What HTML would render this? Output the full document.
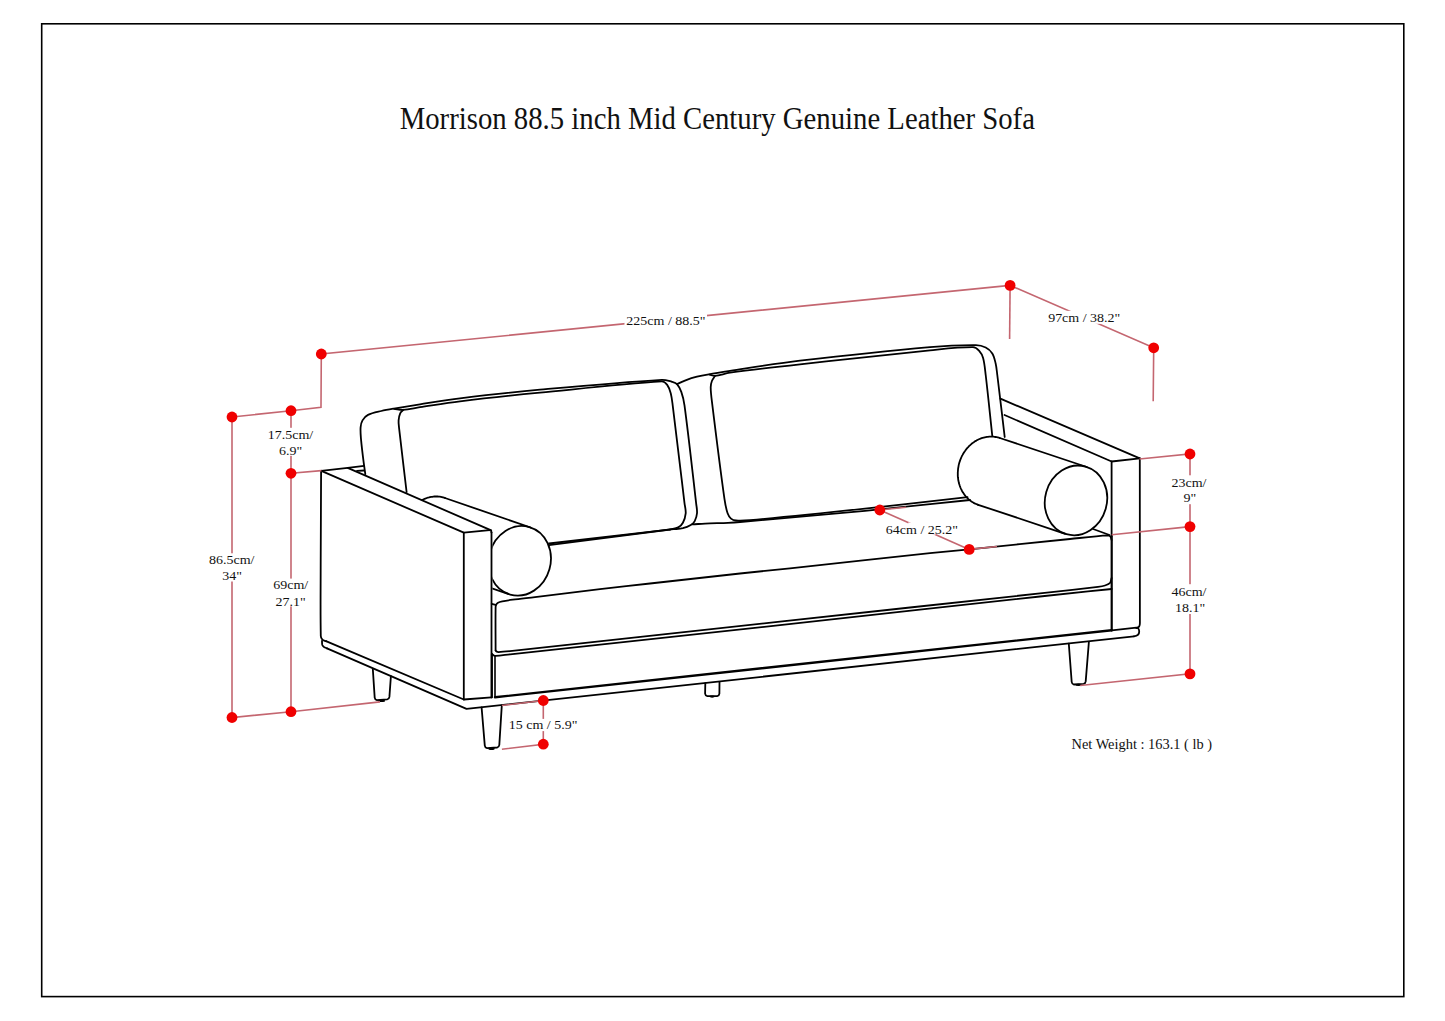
<!DOCTYPE html>
<html><head><meta charset="utf-8">
<style>
html,body{margin:0;padding:0;background:#fff;width:1445px;height:1021px;overflow:hidden}
svg{display:block}
text{font-family:"Liberation Serif",serif;fill:#111}
.s{fill:none;stroke:#000;stroke-width:1.8;stroke-linecap:round;stroke-linejoin:round}
.r{fill:none;stroke:#c46670;stroke-width:1.6}
.d{fill:#f00000}
.lbl{font-size:14px;text-anchor:middle}
.nw{font-size:14.4px}
</style></head>
<body>
<svg width="1445" height="1021" viewBox="0 0 1445 1021">
<rect x="0" y="0" width="1445" height="1021" fill="#fff"/>
<rect x="41.7" y="23.8" width="1362.1" height="972.8" fill="none" stroke="#000" stroke-width="1.6"/>
<text transform="translate(399.7,128.7) scale(1,1.08)" font-size="28.75">Morrison 88.5 inch Mid Century Genuine Leather Sofa</text>
<defs><clipPath id="armclip"><polygon points="300,0 1445,0 1445,1021 492.4,1021 492.4,531 348,468.6 300,447"/></clipPath></defs>
<g class="s">
<path d="M321.3,470.8 L347.7,467.9 L364.1,465.8"/>
<path d="M357,470.9 L364.1,470.5"/>
<path d="M321.1,470.8 C321,500.5 320.8,530.3 320.7,560 C320.7,585.3 320.3,610.8 320.8,636 C320.8,637.3 321.5,638.7 322.4,639.6 C323.3,640.5 324.8,640.7 326,641.2"/>
<path d="M326,641.2 L463.8,699.5 L491.4,697.4"/>
<path d="M321.3,470.8 L463.8,532.7 L489.6,530.2"/>
<path d="M489.6,530.2 C490.1,530.4 490.7,530.4 491,530.7 C491.4,531.1 491.3,531.9 491.5,532.5"/>
<path d="M491.5,532.5 L491.5,697.4"/>
<path d="M463.8,532.7 L463.8,699.5"/>
<path d="M347.7,467.9 L491.2,530.4"/>
<path d="M322,641 C322.1,642.3 321.9,643.8 322.3,645 C322.6,645.8 323.3,646.5 324,647 C324.9,647.6 326,647.9 327,648.3"/>
<path d="M327,648.3 L466.5,708.9 L1134,636.3"/>
<path d="M1134,636.3 Q1139.2,635.6 1139.2,631.8 Q1139.2,627.9 1136.3,627.7 L1111.8,630.3"/>
<path d="M372.8,668.8 L374.7,697.6 Q375,699.8 376.9,700.1 L387.2,699.4 Q389.1,699.1 389.4,696.9 L390.9,676.2"/>
<ellipse cx="381.6" cy="700.9" rx="3.5" ry="1.1" style="fill:#000;stroke:none"/>
<path d="M481.6,707.5 L484.8,745.6 Q485.1,747.8 487,748.1 L497.1,747.5 Q499,747.2 499.3,745 L501.8,705.4"/>
<ellipse cx="491.5" cy="748.7" rx="3.25" ry="1.3" style="fill:#000;stroke:none"/>
<path d="M705.3,683.2 L705.1,693.6 Q705.4,695.8 707.3,696.1 L717.2,696.1 Q719.1,695.8 719.4,693.6 L719.5,681.8"/>
<ellipse cx="712.1" cy="696.6" rx="2.75" ry="1.1" style="fill:#000;stroke:none"/>
<path d="M1068.8,643.7 L1071.7,682 Q1072,684.2 1073.9,684.5 L1083.5,683.9 Q1085.4,683.6 1085.7,681.4 L1088.9,641.8"/>
<ellipse cx="1078.4" cy="684.9" rx="3.0" ry="1.1" style="fill:#000;stroke:none"/>
<path d="M491.9,654 L491.9,697.2" style="stroke-width:2.0"/>
<path d="M495,655.8 L495,697.2" style="stroke-width:1.6"/>
<path d="M495,697.3 L1111.7,630.2" style="stroke-width:2.4"/>
<path d="M491.9,654 C492.9,654.6 493.8,655.8 495,655.8 C499.9,655.9 505,654.8 510,654.3 C600,644.6 690,634.9 780,625.1 C866.7,615.6 953.3,605.9 1040,596.5 C1063.9,593.9 1087.8,591.5 1111.7,589"/>
<path d="M1111.7,536 L1111.7,630.5" style="stroke-width:2.2"/>
<path d="M495.7,650.5 C496,650.9 496.2,651.4 496.6,651.6 C497.1,651.9 497.8,652.1 498.5,652.1 C502.3,652 506.2,651.6 510,651.2 C600,641.4 690,631.4 780,621.6 C866.7,612.1 953.3,602.9 1040,593.4 C1059.3,591.3 1078.7,589.1 1098,586.8 C1100.4,586.5 1102.7,586.2 1105,585.5 C1106.7,585 1108.7,584.4 1109.8,583.2 C1110.9,581.9 1111,579.7 1111.6,578"/>
<path d="M495.6,650.5 C495.6,636.2 495.4,621.8 495.6,607.5 C495.6,606.5 495.8,605.4 496.2,604.6 C496.6,603.8 497.3,603.1 498,602.7 C499.3,602 500.8,601.7 502.3,601.4 C505.7,600.7 509.2,600.2 512.7,599.7 C520.1,598.7 527.6,598 535,597.1 C556.7,594.5 578.3,591.8 600,589.2 C616.7,587.2 633.3,585.4 650,583.5 C680,580.1 710,576.8 740,573.5 C756.7,571.7 773.3,570.1 790,568.3 C836.7,563.3 883.3,558.1 930,553.2 C943.1,551.8 956.2,550.6 969.3,549.3 C1002.9,545.9 1036.4,542.4 1070,539 C1082.7,537.7 1095.5,536.1 1108.1,535.4 C1109,535.4 1110,536.1 1110.5,536.8 C1111.1,537.6 1111.2,538.9 1111.6,540"/>
<path d="M491.7,603.8 L495.6,604.9"/>
<path d="M1000.4,398.6 L1139.8,458.4"/>
<path d="M1139.8,458.4 C1139.8,513.3 1140.1,568.2 1139.9,623 C1139.9,624.2 1139.8,625.5 1139.2,626.4 C1138.7,627.2 1137.4,627.5 1136.5,628"/>
<path d="M1004.5,415 L1111.6,461.5 L1139.8,458.4"/>
<path d="M1111.6,461.5 L1111.6,536"/>
<path d="M1093.1,529 L1109.5,535"/>
<path d="M365.3,474.1 C364.8,470.3 364.2,466.5 363.7,462.7 C362.7,454.9 361.7,447 361,439.2 C360.7,435.3 360.3,431.3 360.6,427.4 C360.8,425 361.3,422.4 362.5,420.4 C363.8,418.2 365.7,416 368,414.9 C372,412.9 376.8,412.1 381.3,411 C385.4,410 389.7,409.3 393.9,408.6 C402.6,407.1 411.3,405.7 420,404.3 C433.3,402.2 446.6,399.9 460,398.3 C486.6,395.1 513.3,392.1 540,389.7 C580.6,386 621.2,382.2 661.8,379.8 C665.2,379.6 668.6,380.9 671.9,381.8 C673.7,382.3 675.8,382.8 677,384.1 C678.9,386.2 680.3,389.1 681.3,391.9 C682.8,396.2 683.9,400.8 684.5,405.3 C688.9,438.1 692.4,471 696.2,503.9 C696.6,507 697.3,510.2 697,513.3 C696.8,516 695.9,518.8 694.7,521.1 C693.9,522.7 692.3,524.1 690.8,525 C688.4,526.4 685.6,527.5 682.9,528.2 C679.9,528.9 676.6,528.9 673.5,529.2"/>
<path d="M673.5,529.2 L549,543.5"/>
<path d="M393.9,408.8 C397,409.1 400.2,410 403.3,409.8 C408.9,409.5 414.4,408 420,407.2 C433.3,405.2 446.6,402.9 460,401.3 C486.6,398.1 513.3,395.3 540,392.7 C580.6,388.7 621.5,383.9 661.8,381.4 C663.9,381.3 666,383.3 667.2,384.9 C669,387.3 670,390.5 670.8,393.5 C671.8,397.3 672.2,401.3 672.7,405.3 C676.8,437.9 680.6,470.5 684.5,503.1 C684.9,506.5 686,510 685.7,513.3 C685.4,516.5 684.4,519.9 682.9,522.7 C681.9,524.6 680.1,526.4 678.2,527.4 C675.8,528.7 672.7,528.8 670,529.5"/>
<path d="M670,529.5 L549,545.2"/>
<path d="M403.3,409.8 C402.3,411 400.8,411.9 400.2,413.3 C399.2,415.5 398.8,418 398.6,420.4 C398.4,422.7 398.7,425.1 399,427.4 C401.4,448.9 404.1,470.5 406.6,492"/>
<path d="M677,384.1 C680.3,382.7 683.5,381 686.8,379.8 C690.1,378.6 693.6,377.6 697,376.7 C700.9,375.7 704.8,375 708.8,374.3 C715.8,373 722.9,371.9 730,370.8 C753.3,367.3 776.6,363.5 800,360.7 C843.3,355.6 886.6,350.9 930,347.1 C945.2,345.7 960.7,345 975.9,345.1 C979.2,345.1 982.8,346 985.7,347.5 C988.3,348.8 990.8,351 992.3,353.4 C994.1,356.2 994.8,359.9 995.6,363.3 C996.5,367.1 996.8,371.1 997.3,375 C999.9,395.7 1002.2,416.3 1004.7,437"/>
<path d="M709.6,374.7 C711.4,375.1 713.2,376.1 715,375.9 C720,375.4 724.9,373.4 730,372.7 C753.3,369.5 776.6,366.9 800,364.3 C843.3,359.4 886.6,354.6 930,350.3 C944.3,348.9 958.9,347.1 973,347.2 C975.3,347.2 977.6,349.1 979.2,350.8 C981,352.7 982.4,355.4 983.1,358 C984.6,363.5 985,369.3 985.7,375 C988.1,395.3 990.1,415.7 992.3,436"/>
<path d="M715,375.9 C714,377.6 712.6,379.2 711.9,381 C711.2,382.9 710.7,385.1 710.7,387.2 C710.7,391.9 711.3,396.6 711.9,401.3 C715.9,434 719.9,466.6 724.5,499.2 C725.2,504 726.1,508.8 727.6,513.3 C728.3,515.3 729.5,517.3 731,518.6 C732.3,519.7 734.2,520.4 736,520.5 C740.6,520.9 745.4,520.6 750,520.2 C788.4,516.7 826.7,512.7 865,508.6 C899.2,505 933.3,500.9 967.5,497.1"/>
<path d="M692.3,524.3 C698.2,524 704.1,523.6 710,523.4 C716,523.2 722,523.2 728,522.9 C732,522.7 736,522.4 740,522 C781.7,518.3 823.4,514.8 865,510.8 C900,507.4 935,503.6 970,500"/>
<g clip-path="url(#armclip)"><path d="M445,498 L530.7,527.5"/><path d="M423,564.6 L508.7,594.1"/><path d="M423,564.6 L421.9,564.2 L420.9,563.8 L420,563.4 L419,562.9 L418,562.3 L417.1,561.8 L416.2,561.2 L415.3,560.5 L414.5,559.9 L413.6,559.1 L412.8,558.4 L412,557.6 L411.3,556.8 L410.5,556 L409.8,555.1 L409.2,554.2 L408.5,553.3 L407.9,552.3 L407.3,551.3 L406.8,550.3 L406.2,549.3 L405.8,548.2 L405.3,547.2 L404.9,546.1 L404.5,545 L404.2,543.8 L403.9,542.7 L403.6,541.5 L403.4,540.4 L403.2,539.2 L403,538 L402.9,536.8 L402.8,535.6 L402.8,534.4 L402.8,533.2 L402.8,532 L402.9,530.8 L403,529.5 L403.1,528.3 L403.3,527.1 L403.5,525.9 L403.8,524.7 L404.1,523.5 L404.4,522.4 L404.8,521.2 L405.2,520 L405.6,518.9 L406.1,517.8 L406.6,516.7 L407.2,515.6 L407.7,514.5 L408.3,513.4 L409,512.4 L409.6,511.4 L410.3,510.4 L411.1,509.4 L411.8,508.5 L412.6,507.6 L413.4,506.7 L414.2,505.9 L415.1,505.1 L416,504.3 L416.9,503.5 L417.8,502.8 L418.7,502.1 L419.7,501.5 L420.7,500.9 L421.7,500.3 L422.7,499.8 L423.7,499.3 L424.7,498.8 L425.8,498.4 L426.8,498 L427.9,497.7 L429,497.4 L430,497.1 L431.1,496.9 L432.2,496.8 L433.3,496.6 L434.4,496.5 L435.5,496.5 L436.6,496.5 L437.7,496.5 L438.7,496.6 L439.8,496.7 L440.9,496.9 L441.9,497.1 L443,497.4 L444,497.7 L445,498"/><ellipse cx="519.7" cy="560.8" rx="30.9" ry="35.1" transform="rotate(15.8 519.7 560.8)"/></g>
<path d="M999.8,438 L1086.8,467"/><path d="M978.2,504.8 L1065.2,533.8"/><path d="M978.2,504.8 L977.2,504.4 L976.2,504 L975.2,503.6 L974.2,503.1 L973.3,502.6 L972.3,502 L971.4,501.4 L970.5,500.8 L969.7,500.1 L968.8,499.4 L968,498.7 L967.2,497.9 L966.5,497.1 L965.7,496.3 L965,495.4 L964.3,494.5 L963.7,493.6 L963,492.6 L962.5,491.7 L961.9,490.7 L961.4,489.6 L960.9,488.6 L960.4,487.5 L960,486.4 L959.6,485.3 L959.3,484.2 L958.9,483.1 L958.7,481.9 L958.4,480.8 L958.2,479.6 L958.1,478.4 L957.9,477.2 L957.8,476 L957.8,474.8 L957.8,473.6 L957.8,472.4 L957.9,471.2 L958,469.9 L958.1,468.7 L958.3,467.5 L958.5,466.3 L958.7,465.1 L959,463.9 L959.3,462.8 L959.7,461.6 L960.1,460.4 L960.5,459.3 L961,458.1 L961.5,457 L962,455.9 L962.6,454.9 L963.2,453.8 L963.8,452.8 L964.5,451.7 L965.2,450.8 L965.9,449.8 L966.6,448.8 L967.4,447.9 L968.2,447.1 L969,446.2 L969.9,445.4 L970.7,444.6 L971.6,443.8 L972.6,443.1 L973.5,442.4 L974.4,441.8 L975.4,441.1 L976.4,440.6 L977.4,440 L978.4,439.5 L979.5,439 L980.5,438.6 L981.6,438.2 L982.6,437.9 L983.7,437.6 L984.8,437.3 L985.9,437.1 L986.9,436.9 L988,436.8 L989.1,436.7 L990.2,436.6 L991.3,436.6 L992.4,436.6 L993.5,436.7 L994.5,436.8 L995.6,437 L996.7,437.2 L997.7,437.4 L998.8,437.7 L999.8,438"/><ellipse cx="1076.0" cy="500.4" rx="30.9" ry="35.1" transform="rotate(15.8 1076.0 500.4)"/>
</g>
<g id="dims">
<g class="r">
<path d="M232,417 L291,410.7 L321,407.3 L321.3,354 L1010.1,285.4"/>
<path d="M1010.1,285.4 L1009.6,338.9"/>
<path d="M1010.1,285.4 L1153.7,347.8 L1153.2,401.2"/>
<path d="M232,417 L232,717.5 L291,711.7 L380,701.9"/>
<path d="M291,410.7 L291,711.7"/>
<path d="M291,473.3 L321.4,470.6"/>
<path d="M1139.5,459 L1190,454 L1190,673.9 L1080.3,685.5"/>
<path d="M969.2,549.4 L997,546.5"/>
<path d="M1111.7,534.7 L1190,526.6"/>
<path d="M879.8,510 L969.2,549.4"/>
<path d="M879.8,510 L906,507.3"/>
<path d="M543.3,700.5 L543.3,744.2 L501.9,749.2"/>
<path d="M501.9,705.5 L543.3,700.5"/>
</g>
<g fill="#fff">
<rect x="624.5" y="313.5" width="82.5" height="12"/>
<rect x="1046" y="310.8" width="76" height="13"/>
<rect x="265" y="427.8" width="51" height="28"/>
<rect x="206" y="553.3" width="51" height="28.2"/>
<rect x="270" y="578.6" width="41" height="27.8"/>
<rect x="1169" y="475.3" width="40" height="28.9"/>
<rect x="1169" y="584.2" width="40" height="29.8"/>
<rect x="908.2" y="522.5" width="27.4" height="12.2"/>
<rect x="507" y="718.9" width="72" height="12.2"/>
</g>
<g class="d">
<circle cx="232" cy="417" r="5.4"/>
<circle cx="291" cy="410.7" r="5.4"/>
<circle cx="321.3" cy="354" r="5.4"/>
<circle cx="291" cy="473.3" r="5.4"/>
<circle cx="291" cy="711.7" r="5.4"/>
<circle cx="232" cy="717.5" r="5.4"/>
<circle cx="1010.1" cy="285.4" r="5.4"/>
<circle cx="1153.7" cy="347.8" r="5.4"/>
<circle cx="1190" cy="454" r="5.4"/>
<circle cx="1190" cy="526.6" r="5.4"/>
<circle cx="1190" cy="673.9" r="5.4"/>
<circle cx="879.8" cy="510" r="5.4"/>
<circle cx="969.2" cy="549.4" r="5.4"/>
<circle cx="543.3" cy="700.5" r="5.4"/>
<circle cx="543.3" cy="744.2" r="5.4"/>
</g>
<g class="lbl">
<text transform="translate(665.9,324.6) scale(1,0.95)">225cm / 88.5"</text>
<text transform="translate(1084.2,322.2) scale(1,0.95)">97cm / 38.2"</text>
<text transform="translate(290.5,438.6) scale(1,0.95)">17.5cm/</text>
<text transform="translate(290.7,455.0) scale(1,0.95)">6.9"</text>
<text transform="translate(231.7,563.7) scale(1,0.95)">86.5cm/</text>
<text transform="translate(232.0,580.3) scale(1,0.95)">34"</text>
<text transform="translate(290.7,589.4) scale(1,0.95)">69cm/</text>
<text transform="translate(290.7,605.6) scale(1,0.95)">27.1"</text>
<text transform="translate(1189.0,486.5) scale(1,0.95)">23cm/</text>
<text transform="translate(1189.8,502.3) scale(1,0.95)">9"</text>
<text transform="translate(1189.0,596.3) scale(1,0.95)">46cm/</text>
<text transform="translate(1190.0,612.1) scale(1,0.95)">18.1"</text>
<text transform="translate(921.9,533.6) scale(1,0.95)">64cm / 25.2"</text>
<text transform="translate(543.1,729.3) scale(1,0.95)">15 cm / 5.9"</text>
<text class="nw" transform="translate(1141.8,748.6) scale(1,1.0)">Net Weight : 163.1 ( lb )</text>
</g>
</g>
</svg>
</body></html>
